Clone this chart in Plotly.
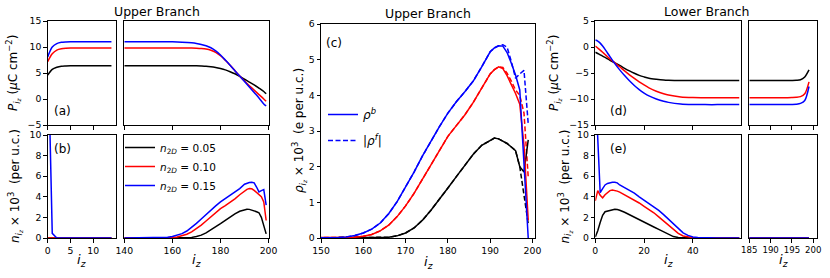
import plotly.graph_objects as go

# ---------------- data ----------------
# (a) upper branch polarization, left part
iz_aL = list(range(0, 15))
P_up_L_k = [4.6, 5.7, 6.1, 6.3, 6.36, 6.4, 6.4, 6.4, 6.4, 6.4, 6.4, 6.4, 6.4, 6.4, 6.4]
P_up_L_r = [7.2, 8.7, 9.4, 9.65, 9.75, 9.8, 9.82, 9.82, 9.82, 9.82, 9.82, 9.82, 9.82, 9.82, 9.82]
P_up_L_b = [8.1, 10.0, 10.65, 10.9, 10.98, 11.02, 11.03, 11.03, 11.03, 11.03, 11.03, 11.03, 11.03, 11.03, 11.03]

# (a) upper branch polarization, right part
iz_aR = [140, 150, 160, 164, 168, 170, 172, 174, 176, 178, 180, 182, 184, 186, 188, 190, 192, 194, 196, 198, 199]
P_up_R_k = [6.4, 6.4, 6.4, 6.4, 6.4, 6.38, 6.35, 6.3, 6.2, 6.05, 5.85, 5.6, 5.25, 4.85, 4.35, 3.8, 3.25, 2.7, 2.1, 1.45, 1.0]
P_up_R_r = [9.82, 9.82, 9.82, 9.82, 9.8, 9.76, 9.7, 9.6, 9.38, 8.98, 8.32, 7.45, 6.5, 5.45, 4.4, 3.45, 2.55, 1.7, 0.85, 0.0, -0.45]
P_up_R_b = [11.03, 11.03, 11.0, 10.93, 10.8, 10.68, 10.5, 10.25, 9.85, 9.25, 8.45, 7.5, 6.5, 5.45, 4.4, 3.35, 2.3, 1.25, 0.2, -0.95, -1.35]

# (b) upper branch n, left part
iz_bL = list(range(0, 15))
n_up_L_k = [0.0] * 15
n_up_L_r = [0.0] * 15
n_up_L_b = [20.0, 0.45, 0.0, 0, 0, 0, 0, 0, 0, 0, 0, 0, 0, 0, 0]

# (b) upper branch n = |rho^f| (also dashed in (c))
iz_up = [140, 150, 154, 156, 158, 160, 162, 164, 166, 168, 170, 172, 174, 176, 178, 180,
         182, 184, 186, 188, 190, 191, 192, 193, 194, 195, 196, 197, 198, 199]
n_up_k = [0, 0, 0, 0, 0, 0, 0, 0.005, 0.02, 0.06, 0.14, 0.28, 0.5, 0.78, 1.08, 1.4,
          1.72, 2.05, 2.35, 2.6, 2.75, 2.8, 2.78, 2.72, 2.65, 2.55, 2.45, 2.0, 1.2, 0.4]
n_up_r = [0, 0, 0.003, 0.01, 0.02, 0.05, 0.1, 0.2, 0.36, 0.6, 0.9, 1.25, 1.65, 2.05, 2.45, 2.85,
          3.15, 3.45, 3.8, 4.2, 4.6, 4.72, 4.8, 4.78, 4.62, 4.4, 4.15, 4.0, 3.5, 1.7]
n_up_b = [0, 0, 0.01, 0.03, 0.07, 0.14, 0.25, 0.42, 0.68, 1.02, 1.42, 1.85, 2.3, 2.72, 3.12, 3.5,
          3.82, 4.1, 4.4, 4.8, 5.22, 5.33, 5.39, 5.42, 5.35, 4.95, 4.48, 4.6, 4.7, 3.2]

# (c) rho^b (solid)
rho_b_k = [0, 0, 0, 0, 0, 0, 0, 0.005, 0.02, 0.06, 0.14, 0.28, 0.5, 0.78, 1.08, 1.4,
           1.72, 2.05, 2.35, 2.6, 2.75, 2.8, 2.78, 2.72, 2.65, 2.55, 2.45, 2.0, 1.85, 2.75]
rho_b_r = [0, 0, 0.003, 0.01, 0.02, 0.05, 0.1, 0.2, 0.36, 0.6, 0.9, 1.25, 1.65, 2.05, 2.45, 2.85,
           3.15, 3.45, 3.8, 4.2, 4.6, 4.72, 4.8, 4.75, 4.55, 4.3, 4.05, 3.75, 2.6, 0.5]
rho_b_b = [0, 0, 0.01, 0.03, 0.07, 0.14, 0.25, 0.42, 0.68, 1.02, 1.42, 1.85, 2.3, 2.72, 3.12, 3.5,
           3.82, 4.1, 4.4, 4.8, 5.22, 5.33, 5.39, 5.38, 5.2, 4.9, 4.57, 4.15, 2.0, 0.0]

# (d) lower branch polarization, left part
iz_dL = [0, 1, 2, 3, 4, 5, 6, 8, 10, 12, 14, 16, 18, 20, 22, 25, 28, 30, 35, 40, 45, 50, 59]
P_lo_L_k = [-1.0, -1.25, -1.5, -1.75, -2.0, -2.28, -2.55, -3.05, -3.55, -4.1, -4.6, -5.05, -5.45,
            -5.75, -6.0, -6.2, -6.35, -6.4, -6.45, -6.45, -6.45, -6.45, -6.45]
P_lo_L_r = [0.2, -0.2, -0.6, -1.02, -1.45, -1.88, -2.3, -3.05, -3.8, -4.6, -5.35, -6.05, -6.7,
            -7.3, -7.85, -8.5, -9.0, -9.25, -9.6, -9.72, -9.75, -9.75, -9.75]
P_lo_L_b = [1.35, 1.15, 0.75, 0.2, -0.45, -1.15, -1.85, -3.2, -4.4, -5.5, -6.5, -7.4, -8.2,
            -8.85, -9.4, -10.0, -10.45, -10.65, -10.95, -11.05, -11.08, -11.08, -11.08]

# (d) lower branch polarization, right part
iz_dR = [185, 190, 194, 195, 196, 197, 198, 199]
P_lo_R_k = [-6.45, -6.45, -6.45, -6.43, -6.4, -6.3, -5.75, -4.4]
P_lo_R_r = [-9.75, -9.75, -9.74, -9.72, -9.68, -9.55, -9.0, -6.7]
P_lo_R_b = [-11.08, -11.08, -11.07, -11.05, -11.0, -10.85, -10.3, -7.6]

# (e) lower branch n, left part
iz_eL = [0, 1, 2, 3, 4, 5, 6, 7, 8, 9, 10, 12, 14, 16, 18, 20, 22, 24, 26, 28, 30, 32, 34, 36, 38,
         40, 42, 45, 50, 59]
n_lo_L_k = [0.1, 0.7, 1.5, 2.2, 2.55, 2.62, 2.68, 2.74, 2.78, 2.76, 2.7, 2.5, 2.25, 2.0, 1.78,
            1.56, 1.3, 1.07, 0.84, 0.6, 0.3, 0.14, 0.05, 0.02, 0.0, 0, 0, 0, 0, 0]
n_lo_L_r = [3.6, 4.6, 4.15, 3.9, 4.2, 4.45, 4.6, 4.65, 4.62, 4.55, 4.45, 4.2, 3.95, 3.7, 3.4,
            3.08, 2.78, 2.45, 2.05, 1.65, 1.23, 0.82, 0.45, 0.2, 0.08, 0.03, 0.01, 0, 0, 0]
n_lo_L_b = [15.0, 8.9, 4.4, 4.8, 5.15, 5.3, 5.38, 5.42, 5.42, 5.35, 5.15, 4.9, 4.65, 4.35, 4.0,
            3.67, 3.35, 3.03, 2.68, 2.27, 1.82, 1.35, 0.9, 0.5, 0.25, 0.1, 0.04, 0.01, 0, 0]

# (e) lower branch n, right part
iz_eR = [185, 199]
n_lo_R_k = [0, 0]
n_lo_R_r = [0, 0]
n_lo_R_b = [0, 0]

series_names = ["<i>n</i><sub>2<i>D</i></sub> = 0.05", "<i>n</i><sub>2<i>D</i></sub> = 0.10",
                "<i>n</i><sub>2<i>D</i></sub> = 0.15"]
colors = ["black", "red", "blue"]

# ---------------- layout helpers ----------------
W, H = 830, 278
FONT = "DejaVu Sans"


def xd(a, b):
    return [a / W, b / W]


def yd(top, bottom):
    return [1 - bottom / H, 1 - top / H]


common = dict(showline=True, linecolor="black", linewidth=1, mirror=True, showgrid=False,
              zeroline=False, ticks="outside", ticklen=3.5, tickwidth=1, tickcolor="black",
              tickfont=dict(family=FONT, size=9.3, color="black"))

XL_L, XL_R = 47.7, 116.0
XR_L, XR_R = 124.3, 269.3
XD_L, XD_R = 595.3, 740.7
XE_L, XE_R = 749.3, 816.7
TOP_T, TOP_B = 21, 125
BOT_T, BOT_B = 135, 238

panels = [
    ((XL_L, XL_R), (TOP_T, TOP_B), [0, 15], [0, 5, 10], False, [-5, 15], [-5, 0, 5, 10, 15], True),
    ((XR_L, XR_R), (TOP_T, TOP_B), [140, 200.3], [140, 160, 180, 200], False, [-5, 15], [], False),
    ((XL_L, XL_R), (BOT_T, BOT_B), [0, 15], [0, 5, 10], True, [0, 10], [0, 2, 4, 6, 8, 10], True),
    ((XR_L, XR_R), (BOT_T, BOT_B), [140, 200.3], [140, 160, 180, 200], True, [0, 10], [], False),
    ((321, 535), (24, 238), [150, 200.6], [150, 160, 170, 180, 190, 200], True, [0, 6],
     [0, 1, 2, 3, 4, 5, 6], True),
    ((XD_L, XD_R), (TOP_T, TOP_B), [0, 59.6], [0, 20, 40], False, [-15, 5], [-15, -10, -5, 0, 5], True),
    ((XE_L, XE_R), (TOP_T, TOP_B), [185, 200.8], [185, 190, 195, 200], False, [-15, 5], [], False),
    ((XD_L, XD_R), (BOT_T, BOT_B), [0, 59.6], [0, 20, 40], True, [0, 10], [0, 2, 4, 6, 8, 10], True),
    ((XE_L, XE_R), (BOT_T, BOT_B), [185, 200.8], [185, 190, 195, 200], True, [0, 10], [], False),
]

layout = dict(width=W, height=H, plot_bgcolor="white", paper_bgcolor="white",
              margin=dict(l=0, r=0, t=0, b=0, autoexpand=False),
              font=dict(family=FONT, size=10, color="black"))

for i, (xp, yp, xr, xt, xlab, yr, yt, ylab) in enumerate(panels, start=1):
    sfx = "" if i == 1 else str(i)
    xa = dict(common, domain=xd(*xp), range=xr, tickvals=xt, showticklabels=xlab,
              anchor="y" + sfx)
    ya = dict(common, domain=yd(*yp), range=yr, tickvals=yt, showticklabels=ylab,
              anchor="x" + sfx)
    if not yt:
        ya["ticks"] = ""
    layout["xaxis" + sfx] = xa
    layout["yaxis" + sfx] = ya

# narrow broken-axis panel: slightly smaller tick labels so they don't collide
layout["xaxis9"]["tickfont"] = dict(family=FONT, size=8.6, color="black")

fig = go.Figure(layout=layout)


def add(idx, x, ys, dash=None, legend=None, smooth=False, names=None):
    sfx = "" if idx == 1 else str(idx)
    for j, y in enumerate(ys):
        line = dict(color=colors[j], width=1.5)
        if dash:
            line["dash"] = dash
        if smooth:
            line["shape"] = "spline"
            line["smoothing"] = 0.8
        show = names is not None and names[j] is not None
        fig.add_trace(go.Scatter(x=x, y=y, mode="lines", line=line, xaxis="x" + sfx,
                                 yaxis="y" + sfx, showlegend=show,
                                 name=(names[j] if show else None),
                                 legend=legend if show else None, hoverinfo="skip"))


add(1, iz_aL, [P_up_L_k, P_up_L_r, P_up_L_b], smooth=True)
add(2, iz_aR, [P_up_R_k, P_up_R_r, P_up_R_b], smooth=True)
add(3, iz_bL, [n_up_L_k, n_up_L_r, n_up_L_b])
add(4, iz_up, [n_up_k, n_up_r, n_up_b], legend="legend", names=series_names)
add(5, iz_up, [n_up_k, n_up_r, n_up_b], dash="5px,2.5px")
add(5, iz_up, [rho_b_k, rho_b_r, rho_b_b])
add(6, iz_dL, [P_lo_L_k, P_lo_L_r, P_lo_L_b], smooth=True)
add(7, iz_dR, [P_lo_R_k, P_lo_R_r, P_lo_R_b], smooth=True)
add(8, iz_eL, [n_lo_L_k, n_lo_L_r, n_lo_L_b])
add(9, iz_eR, [n_lo_R_k, n_lo_R_r, n_lo_R_b])

# legend entries for panel (c)
fig.add_trace(go.Scatter(x=[None], y=[None], mode="lines", line=dict(color="blue", width=1.5),
                         name="<i>ρ</i><sup><i>b</i></sup>", legend="legend2", legendgroup="rb",
                         xaxis="x5", yaxis="y5"))
fig.add_trace(go.Scatter(x=[None], y=[None], mode="lines",
                         line=dict(color="blue", width=1.5, dash="5px,2.5px"),
                         name="|<i>ρ</i><sup><i>f</i></sup>|", legend="legend2", legendgroup="rf",
                         xaxis="x5", yaxis="y5"))

fig.update_layout(
    legend=dict(x=120 / W, y=1 - 133 / H, xanchor="left", yanchor="top", bgcolor="rgba(0,0,0,0)",
                font=dict(family=FONT, size=10.5), tracegroupgap=0),
    legend2=dict(x=323 / W, y=1 - 100 / H, xanchor="left", yanchor="top", bgcolor="rgba(0,0,0,0)",
                 font=dict(family=FONT, size=12), tracegroupgap=7),
)

ann = []


def text(x, y, s, size=11, angle=0):
    ann.append(dict(x=x / W, y=1 - y / H, xref="paper", yref="paper", text=s, showarrow=False,
                    xanchor="center", yanchor="middle", textangle=angle,
                    font=dict(family=FONT, size=size, color="black")))


text(157, 12, "Upper Branch", 12.5)
text(428, 13, "Upper Branch", 12.5)
text(707, 12, "Lower Branch", 12.5)

text(62, 111, "(a)", 12)
text(62, 149, "(b)", 12)
text(333.5, 43, "(c)", 12)
text(618, 111, "(d)", 12)
text(618, 149, "(e)", 12)

P_label = "<i>P</i><sub><i>i</i><sub><i>z</i></sub></sub> (<i>μ</i>C cm<sup>−2</sup>)"
n_label = "<i>n</i><sub><i>i</i><sub><i>z</i></sub></sub> × 10<sup>3</sup>\u00a0\u00a0(per u.c.)"
rho_label = "<i>ρ</i><sub><i>i</i><sub><i>z</i></sub></sub> × 10<sup>3</sup>\u00a0\u00a0(e per u.c.)"
text(13, 73, P_label, 12, -90)
text(14.5, 186.5, n_label, 12, -90)
text(299, 131, rho_label, 12, -90)
text(554, 73, P_label, 12, -90)
text(564, 186.5, n_label, 12, -90)

iz_label = "<i>i</i><sub><i>z</i></sub>"
text(81.9, 260, iz_label, 13)
text(196.8, 260, iz_label, 13)
text(428, 262, iz_label, 13)
text(668, 260, iz_label, 13)
text(783, 260, iz_label, 13)

fig.update_layout(annotations=ann)
fig.write_html("out.html", config={"staticPlot": True},
               post_script="document.body.style.margin='0px';document.body.style.padding='0px';")
